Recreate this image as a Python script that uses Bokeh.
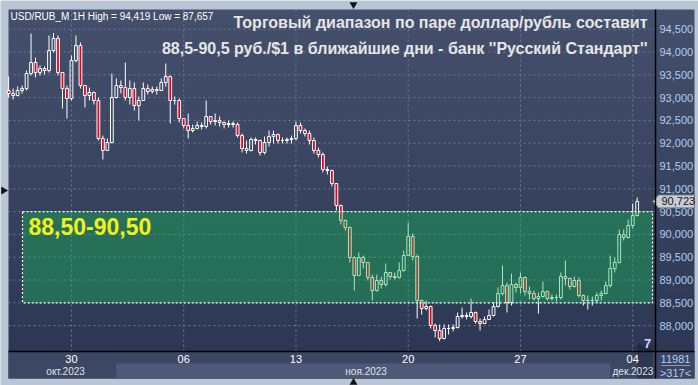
import numpy as np
from bokeh.plotting import figure
from bokeh.models import Range1d
from bokeh.core.properties import value
from bokeh.embed import file_html
from bokeh.resources import INLINE

# ---------------- data (1H candles) ----------------
close = [93090, 93046, 93155, 93199, 93528, 93770, 93550, 93638, 93594, 94033,
         94296, 93550, 93199, 92980, 93814, 94142, 93265, 93046, 93112, 92936,
         92103, 91840, 92015, 93002, 93265, 93221, 93002, 93199, 92826, 92936,
         93199, 93134, 93177, 93155, 93331, 93463, 92936, 92936, 92541, 92388,
         92278, 92322, 92388, 92366, 92585, 92476, 92497, 92454, 92410, 92432,
         92410, 92168, 91883, 91840, 92081, 92059, 91796, 92015, 92146, 92190,
         92059, 92059, 92081, 92103, 92388, 92278, 92212, 92059, 91840, 91752,
         91423, 91401, 91116, 90633, 90305, 90151, 89493, 89098, 89493, 89384,
         89055, 88769, 88989, 88901, 89164, 89076, 89055, 89208, 89537, 89954,
         89515, 88550, 88375, 88418, 88002, 87892, 87717, 87936, 87936, 87958,
         88199, 88221, 88199, 88287, 88090, 88046, 88133, 88221, 88418, 88704,
         88879, 88506, 88901, 88835, 89055, 88747, 88704, 88594, 88638, 88747,
         88594, 88616, 88616, 89076, 89033, 88857, 88989, 88660, 88550, 88550,
         88550, 88660, 88704, 88879, 89252, 89384, 89997, 89932, 90195, 90414,
         90723]
high = [93463, 93199, 93243, 93265, 93594, 94405, 93879, 93704, 93682, 94362,
        94419, 94362, 93550, 93265, 93923, 94362, 94208, 93265, 93221, 93134,
        93002, 92168, 92103, 93528, 93419, 93375, 93770, 93375, 93331, 93024,
        93331, 93287, 93243, 93243, 93419, 93748, 93485, 93024, 92980, 92541,
        92651, 92410, 92476, 92454, 92936, 92585, 92651, 92585, 92476, 92497,
        92476, 92454, 92212, 92059, 92125, 92125, 92081, 92146, 92278, 92278,
        92212, 92125, 92125, 92168, 92476, 92454, 92322, 92278, 92125, 91905,
        91796, 91489, 91423, 91116, 90655, 90327, 90173, 89515, 89603, 89537,
        89384, 89120, 89120, 89076, 89362, 89164, 89164, 89384, 89647, 90261,
        90020, 89559, 88570, 88550, 88440, 88046, 88024, 88024, 88024, 88024,
        88287, 88396, 88287, 88594, 88309, 88155, 88199, 88353, 88506, 88835,
        89318, 88945, 89142, 88945, 89164, 89077, 88857, 88769, 88725, 88967,
        88769, 88682, 88682, 89164, 89428, 89055, 89076, 89055, 88682, 88660,
        88638, 88725, 88769, 88967, 89537, 89493, 90107, 90107, 90327, 90677,
        90809]
low = [93002, 92958, 93024, 93090, 93155, 93485, 93441, 93485, 93506, 93550,
       93989, 93485, 92761, 92541, 92936, 93770, 93199, 92783, 92936, 92848,
       92059, 91642, 91840, 91993, 92980, 93090, 92936, 92848, 92717, 92497,
       92936, 93068, 93090, 93068, 93155, 93243, 92432, 92848, 92454, 92322,
       92103, 92234, 92300, 92300, 92322, 92410, 92388, 92366, 92322, 92344,
       92344, 92125, 91796, 91774, 91818, 91971, 91730, 91752, 91927, 91993,
       91993, 91993, 91993, 91993, 92059, 92212, 92146, 91971, 91774, 91686,
       91357, 91313, 91050, 90524, 90217, 90085, 89384, 88769, 89098, 89252,
       88989, 88550, 88747, 88813, 88857, 89011, 89011, 89033, 89186, 89537,
       89428, 88155, 88243, 88331, 87936, 87739, 87657, 87695, 87804, 87870,
       87936, 88155, 88133, 88155, 88046, 87892, 88046, 88133, 88199, 88396,
       88660, 88287, 88440, 88725, 88704, 88660, 88572, 88550, 88265, 88616,
       88550, 88550, 88528, 88572, 88879, 88791, 88835, 88616, 88440, 88353,
       88440, 88506, 88550, 88682, 88835, 89164, 89362, 89866, 89910, 90129,
       90392]
first_open = 93155
opens = [first_open] + close[:-1]

price_ticks = [88000, 88500, 89000, 89500, 90000, 90500, 91000, 91500,
               92000, 92500, 93000, 93500, 94000, 94500]
price_tick_labels = ["88,000", "88,500", "89,000", "89,500", "90,000", "90,500", "91,000",
                     "91,500", "92,000", "92,500", "93,000", "93,500", "94,000", "94,500"]
day_tick_pos = [14, 39, 64, 89, 114, 139]          # candle index of each Monday
day_tick_labels = ["30", "06", "13", "20", "27", "04"]
month_labels = ["окт.2023", "ноя.2023", "дек.2023"]
month_label_pos = [8.4, 75.0, 134.5]
month_band_start = 24      # 1 Nov
month_band_end = 134       # 1 Dec

range_low, range_high = 88500, 90500
last_price = 90723
last_price_label = "90,723"
corner_top, corner_bottom = "11981", ">317<"
header = "USD/RUB_M 1H High = 94,419 Low = 87,657"
title1 = "Торговый диапазон по паре доллар/рубль составит"
title2 = "88,5-90,5 руб./$1 в ближайшие дни - банк ''Русский Стандарт''"
range_label = "88,50-90,50"

# ---------------- layout helpers (page pixels -> data coords) ----------------
def X(px):
    return (px - 8.1) / 4.49

def Y(px):
    return 95129.4 - 21.93 * px

FONT = "Liberation Sans"
PL, PR, PT, PB = 8, 655, 9, 351       # plot panel
AR, AB = 694, 378                      # axis panels outer edges

p = figure(width=698, height=385, x_range=Range1d(X(0), X(698)), y_range=Range1d(Y(385), Y(0)),
           output_backend="svg", toolbar_location=None,
           x_axis_location=None, y_axis_location=None,
           min_border=0, min_border_left=0, min_border_right=0,
           min_border_top=0, min_border_bottom=0)
p.background_fill_color = "#bac6d6"
p.border_fill_color = "#bac6d6"
p.outline_line_color = None
p.xgrid.visible = False
p.ygrid.visible = False

# panel background gradient (plot + right price scale)
n = 120
img = np.empty((n, 1), dtype=np.uint32)
view = img.view(dtype=np.uint8).reshape((n, 1, 4))
bot = np.array([43, 54, 82]); top = np.array([68, 80, 108])
for r in range(n):
    t = r / (n - 1)
    view[r, 0, 0:3] = (bot + (top - bot) * t).astype(np.uint8)
    view[r, 0, 3] = 255
p.image_rgba(image=[img], x=X(PL), y=Y(AB), dw=X(AR) - X(PL), dh=Y(PT) - Y(AB), level="image")

# grid lines (dashed) inside the plot panel
p.segment(x0=[X(PL)] * len(price_ticks), x1=[X(PR)] * len(price_ticks), y0=price_ticks,
          y1=price_ticks, line_color="#6b7b9a", line_dash="2 3", line_width=1)
p.segment(x0=day_tick_pos, x1=day_tick_pos, y0=[Y(PT)] * 6, y1=[Y(PB)] * 6,
          line_color="#6b7b9a", line_dash="2 3", line_width=1)

# candles
xs = list(range(len(close)))
body_top = [max(o, c) for o, c in zip(opens, close)]
body_bot = [min(o, c) for o, c in zip(opens, close)]
p.segment(x0=xs, y0=high, x1=xs, y1=body_top, line_color="white", line_width=1)
p.segment(x0=xs, y0=body_bot, x1=xs, y1=low, line_color="white", line_width=1)
up = [i for i in xs if close[i] >= opens[i]]
dn = [i for i in xs if close[i] < opens[i]]
p.vbar(x=up, width=0.62, top=[body_top[i] for i in up], bottom=[body_bot[i] for i in up],
       fill_alpha=0, line_color="white", line_width=1)
p.vbar(x=dn, width=0.62, top=[body_top[i] for i in dn], bottom=[body_bot[i] for i in dn],
       fill_color="#e8001e", line_color="white", line_width=1)

# trading range box
p.quad(left=X(22), right=X(652), bottom=range_low, top=range_high,
       fill_color="#10c254", fill_alpha=0.37, line_color="white", line_width=1.2,
       line_dash="2 2")
p.text(x=[X(28)], y=[Y(226)], text=[range_label],
       text_font=value(FONT), text_font_style="bold", text_font_size="23px",
       text_color="#f2f21a", text_baseline="middle", text_align="left")

# header + title
p.text(x=[X(10)], y=[Y(16)], text=[header], text_font=value(FONT), text_font_size="10px",
       text_color="white", text_baseline="middle", text_align="left")
p.text(x=[X(647), X(647)], y=[Y(22), Y(48)], text=[title1, title2], text_font=value(FONT),
       text_font_style="bold", text_font_size="16px", text_color="#e6e6e6",
       text_baseline="middle", text_align="right")

# right price scale
p.text(x=[X(659)] * len(price_ticks), y=price_ticks, text=price_tick_labels,
       text_font=value(FONT), text_font_size="11px", text_color="#b4cdf0",
       text_baseline="middle", text_align="left")
dy = 6.5 * 21.93
p.patch(x=[X(652), X(658), X(694), X(694), X(658)],
        y=[last_price, last_price + dy, last_price + dy, last_price - dy, last_price - dy],
        fill_color="#c8ccd4", line_color="#6f7480", line_width=1)
p.text(x=[X(661)], y=[last_price], text=[last_price_label], text_font=value(FONT),
       text_font_size="11px", text_color="#151515", text_baseline="middle", text_align="left")

# bottom date panel
p.quad(left=X(PL), right=X(PR), bottom=Y(AB), top=Y(PB), fill_color="#3c4764", line_color=None)
p.quad(left=month_band_start, right=month_band_end, bottom=Y(AB), top=Y(363),
       fill_color="#4c5a77", line_color=None)
p.quad(left=X(637), right=X(652), bottom=Y(AB), top=Y(345), fill_color="#18223a",
       fill_alpha=0.45, line_color=None)
p.quad(left=X(PR), right=X(AR), bottom=Y(AB), top=Y(PB), fill_color="#3a4664", line_color=None)
p.segment(x0=[X(PL)], x1=[X(AR)], y0=[Y(PB)], y1=[Y(PB)], line_color="black", line_width=1.5)
p.segment(x0=[X(PR)], x1=[X(PR)], y0=[Y(PT)], y1=[Y(AB)], line_color="black", line_width=1.5)
p.segment(x0=[X(661)], x1=[X(690)], y0=[Y(365)], y1=[Y(365)], line_color="#8498b8", line_width=1)
p.text(x=day_tick_pos, y=[Y(358)] * len(day_tick_pos), text=day_tick_labels,
       text_font=value(FONT), text_font_size="11px", text_color="white",
       text_baseline="middle", text_align="center")
p.text(x=month_label_pos, y=[Y(371)] * 3, text=month_labels,
       text_font=value(FONT), text_font_size="10px", text_color="#dde4ee",
       text_baseline="middle", text_align="left")
p.text(x=[X(675), X(675)], y=[Y(358), Y(372)], text=[corner_top, corner_bottom],
       text_font=value(FONT), text_font_size="11px", text_color="#b4cdf0",
       text_baseline="middle", text_align="center")
p.text(x=[X(647)], y=[Y(343)], text=["7"], text_font=value(FONT), text_font_style="bold",
       text_font_size="13px", text_color="#c8dcff", text_baseline="middle", text_align="center")

# small frame arrows
p.scatter(x=[X(353)], y=[Y(4)], marker="inverted_triangle", size=8, fill_color="#111111",
          line_color=None)
p.scatter(x=[X(353)], y=[Y(382)], marker="triangle", size=8, fill_color="#111111",
          line_color=None)
p.scatter(x=[X(3)], y=[Y(190)], marker="triangle", angle=-1.5708, size=8,
          fill_color="#111111", line_color=None)
p.scatter(x=[X(639)], y=[Y(346)], marker="triangle", size=7, fill_color="#1e2840",
          line_color=None)

open("out.html", "w").write(file_html(p, INLINE))
